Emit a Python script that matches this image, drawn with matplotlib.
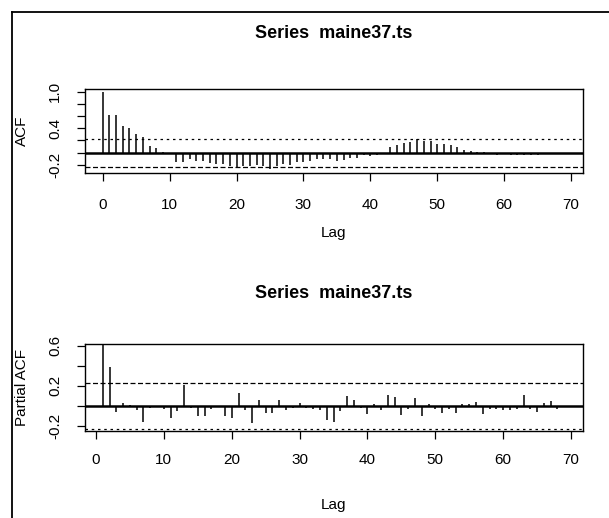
import numpy as np
import matplotlib
matplotlib.use("Agg")
import matplotlib.pyplot as plt
from matplotlib.lines import Line2D

plt.rcParams['font.family'] = ['Liberation Sans', 'DejaVu Sans']

# ACF of maine37.ts, lags 0..70
acf_vals = [1.0, 0.62, 0.62, 0.44, 0.41, 0.31, 0.26, 0.11, 0.07, 0.01,
            -0.01, -0.15, -0.16, -0.11, -0.135, -0.14, -0.17, -0.18, -0.19, -0.22,
            -0.23, -0.22, -0.22, -0.21, -0.22, -0.27, -0.22, -0.19, -0.21, -0.16,
            -0.16, -0.135, -0.10, -0.10, -0.11, -0.13, -0.12, -0.08, -0.08, -0.04,
            -0.05, -0.03, 0.0, 0.10, 0.12, 0.16, 0.17, 0.23, 0.19, 0.19,
            0.15, 0.15, 0.12, 0.09, 0.05, 0.02, 0.015, 0.01, -0.02, -0.03,
            -0.02, -0.04, -0.03, -0.04, -0.03, -0.03, -0.02, -0.01, -0.02, -0.01,
            -0.005]

# partial ACF, lags 1..70
pacf_vals = [0.61, 0.39, -0.06, 0.03, 0.01, -0.045, -0.16, -0.02, -0.015, -0.03,
             -0.12, -0.05, 0.21, -0.025, -0.105, -0.10, -0.03, -0.015, -0.10, -0.12,
             0.13, -0.045, -0.17, 0.06, -0.07, -0.07, 0.06, -0.04, -0.025, 0.03,
             -0.02, -0.03, -0.045, -0.14, -0.16, -0.055, 0.10, 0.06, -0.02, -0.085,
             0.02, -0.045, 0.11, 0.09, -0.09, -0.035, 0.08, -0.10, 0.015, -0.03,
             -0.07, -0.03, -0.07, 0.02, 0.02, 0.04, -0.08, -0.03, -0.035, -0.04,
             -0.045, -0.035, 0.105, -0.03, -0.065, 0.025, 0.045, -0.035, -0.01, -0.01]

clim = 0.232
title = "Series  maine37.ts"

W, H = 609, 518
fig = plt.figure(figsize=(W / 100, H / 100), dpi=100)


def px_rect(x0, y0, x1, y1):
    return [x0 / W, 1 - y1 / H, (x1 - x0) / W, (y1 - y0) / H]


def style_axes(ax, yticks, ylabels, ylabel, xpad, ypad):
    ax.set_xticks(range(0, 71, 10))
    ax.set_yticks(yticks)
    ax.set_yticklabels(ylabels)
    ax.tick_params(axis='both', direction='out', length=5.5, width=0.9,
                   labelsize=11, color='black')
    ax.tick_params(axis='x', pad=xpad)
    ax.tick_params(axis='y', pad=ypad)
    for lab in ax.get_yticklabels():
        lab.set_rotation(90)
        lab.set_va('center')
        lab.set_ha('center')
    for sp in ax.spines.values():
        sp.set_linewidth(1.0)
    ax.set_ylabel(ylabel, fontsize=11, va='center')
    ax.yaxis.set_label_coords(-63 / 497.7, 0.5)


# ---- ACF panel ----
ax1 = fig.add_axes(px_rect(85, 89, 582.7, 173.3))
lags = np.arange(len(acf_vals))
ax1.vlines(lags, 0, acf_vals, color='black', lw=1.1)
ax1.axhline(0, color='black', lw=1.8)
ax1.axhline(clim, color='black', lw=0.9, ls=(0, (2, 3)))
ax1.axhline(-clim, color='black', lw=0.9, ls=(0, (4, 2)))
ax1.set_xlim(-2.65, 71.75)
ax1.set_ylim(-0.338, 1.044)
yt = np.round(np.arange(-0.2, 1.01, 0.2), 1)
style_axes(ax1, yt, ['-0.2', '', '', '0.4', '', '', '1.0'], 'ACF', 12, 16)
ax1.set_title(title, fontsize=13, fontweight='bold', pad=37)
ax1.set_xlabel('Lag', fontsize=11, va='center')
ax1.xaxis.set_label_coords(0.5, -59.7 / 84.3)

# ---- PACF panel ----
ax2 = fig.add_axes(px_rect(85, 344, 582.7, 431))
plags = np.arange(1, len(pacf_vals) + 1)
ax2.vlines(plags, 0, pacf_vals, color='black', lw=1.1)
ax2.axhline(0, color='black', lw=1.8)
ax2.axhline(clim, color='black', lw=0.9, ls=(0, (4, 2)))
ax2.axhline(-clim, color='black', lw=0.9, ls=(0, (2, 3)))
ax2.set_xlim(-1.62, 71.72)
ax2.set_ylim(-0.25, 0.617)
yt2 = np.round(np.arange(-0.2, 0.61, 0.2), 1)
style_axes(ax2, yt2, ['-0.2', '', '0.2', '', '0.6'], 'Partial ACF', 10, 16)
ax2.set_title(title, fontsize=13, fontweight='bold', pad=33)
ax2.set_xlabel('Lag', fontsize=11, va='center')
ax2.xaxis.set_label_coords(0.5, -74 / 87)

# frame lines around the figure (top and left, as in the scan)
fig.add_artist(Line2D([11.7 / W, 1], [1 - 11.7 / H] * 2, color='black', lw=1.3,
                      transform=fig.transFigure))
fig.add_artist(Line2D([11.7 / W] * 2, [0, 1 - 11.7 / H], color='black', lw=1.3,
                      transform=fig.transFigure))

fig.savefig("out.png", dpi=100)
